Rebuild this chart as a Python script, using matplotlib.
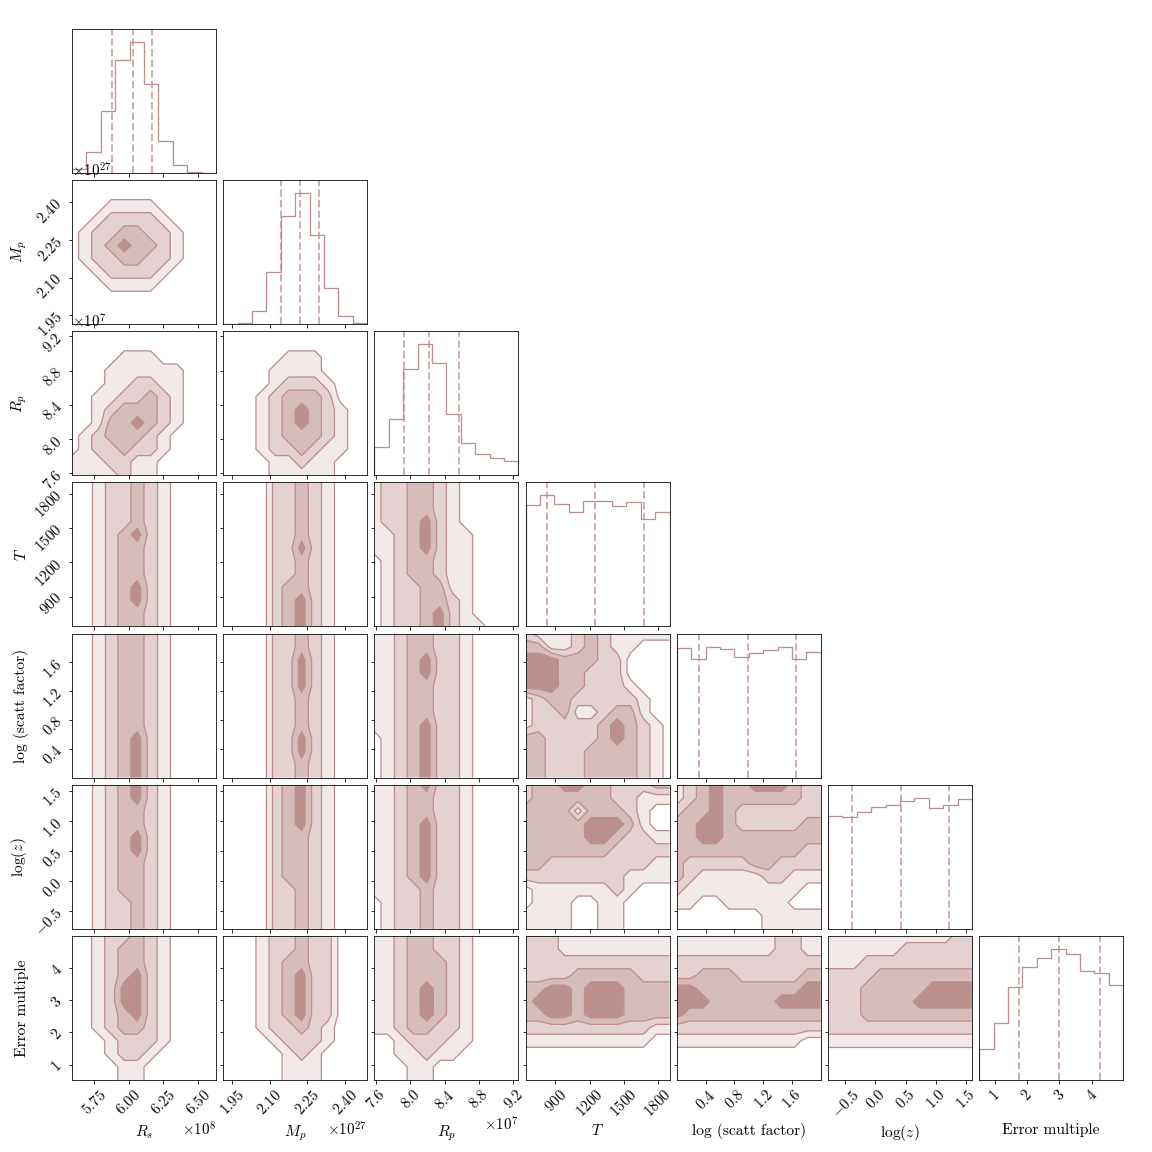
import numpy as np
import matplotlib
matplotlib.use('Agg')
import matplotlib.pyplot as plt
from matplotlib.ticker import FixedLocator, NullLocator, NullFormatter, ScalarFormatter

plt.rcParams['font.family'] = 'serif'
plt.rcParams['font.serif'] = ['cmr10', 'DejaVu Serif']
plt.rcParams['mathtext.fontset'] = 'cm'
plt.rcParams['axes.formatter.use_mathtext'] = True
plt.rcParams['axes.unicode_minus'] = False

labels = [r'$R_s$', r'$M_p$', r'$R_p$', r'$T$', 'log (scatt factor)', r'$\log(z)$', 'Error multiple']
lo = [5.593e8, 1.915e27, 7.58e7, 637, 0.0, -0.79, 0.52]
hi = [6.627e8, 2.489e27, 9.26e7, 1904, 2.0, 1.605, 4.98]
ticks = [[5.75e8, 6.00e8, 6.25e8, 6.50e8],
         [1.95e27, 2.10e27, 2.25e27, 2.40e27],
         [7.6e7, 8.0e7, 8.4e7, 8.8e7, 9.2e7],
         [900, 1200, 1500, 1800],
         [0.4, 0.8, 1.2, 1.6],
         [-0.5, 0.0, 0.5, 1.0, 1.5],
         [1, 2, 3, 4]]

# 1d histograms (10 bins over the axis range), heights
hist_rs = [10, 62, 186, 338, 392, 266, 95, 23, 2, 0]
hist_mp = [0, 4, 38, 155, 322, 392, 268, 107, 24, 2]
hist_rp = [83, 167, 317, 392, 335, 184, 97, 62, 51, 44]
hist_t = [365, 392, 368, 344, 375, 375, 362, 372, 323, 342]
hist_sc = [387, 354, 392, 385, 360, 372, 381, 390, 354, 375]
hist_z = [338, 335, 350, 365, 371, 383, 392, 362, 371, 389]
hist_err = [93, 171, 276, 336, 363, 390, 375, 326, 318, 282]

# 16/50/84 quantiles
q_rs = [5.883e8, 6.028e8, 6.165e8]
q_mp = [2.145e27, 2.220e27, 2.296e27]
q_rp = [7.930e7, 8.213e7, 8.567e7]
q_t = [822, 1246, 1678]
q_sc = [0.314, 0.988, 1.658]
q_z = [-0.385, 0.429, 1.222]
q_err = [1.75, 2.99, 4.26]

# 2d panels: contour level (0 = outside, 4 = innermost) on a 12x12 grid,
# rows from the top of the panel down, columns left to right
grid_mp_rs = ["000000000000", "000000000000", "000111100000", "001222210000",
              "012233221000", "012343321000", "012233221000", "001222210000",
              "000111100000", "000000000000", "000000000000", "000000000000"]
grid_rp_rs = ["000000000000", "000000000000", "000011100000", "000111111000",
              "000112211000", "001122321000", "001233321000", "001334321000",
              "012333210000", "012232210000", "111221100000", "111121100000"]
grid_rp_mp = ["000000000000", "000000000000", "000001110000", "000011110000",
              "000012221000", "000123332000", "000123432100", "000123432100",
              "000123332100", "000122321100", "000011211000", "000011111000"]
grid_t_rs = ["001223210000", "001223210000", "001223210000", "001223210000",
             "001234210000", "001233210000", "001233210000", "001233210000",
             "001234210000", "001234210000", "001233210000", "001233210000"]
grid_t_mp = ["000022321000", "000022321000", "000022321000", "000022321000",
             "000022321000", "000022421000", "000022321000", "000022321000",
             "000023321000", "000023421000", "000023421000", "000023421000"]
grid_t_rp = ["122332100000", "122332100000", "122332100000", "122342100000",
             "112342110000", "112342110000", "012332110000", "012332110000",
             "012233110000", "012233210000", "012234210000", "012234211000"]
grid_sc_rs = ["001233210000", "001233210000", "001233210000", "001233210000",
              "001233210000", "001233210000", "001233210000", "001233210000",
              "001234210000", "001234210000", "001234210000", "001234210000"]
grid_sc_mp = ["000022321000", "000022321000", "000022421000", "000022421000",
              "000022421000", "000022321000", "000022321000", "000022321000",
              "000022421000", "000022421000", "000022321000", "000022321000"]
grid_sc_rp = ["112332210000", "112332210000", "112342210000", "112342210000",
              "112332210000", "112332210000", "112332210000", "112342210000",
              "012342210000", "012342210000", "012342210000", "012342210000"]
grid_sc_t = ["211123211111", "331123211000", "444333220000", "444332220000",
             "444332221000", "123322222100", "122311233100", "122222343210",
             "332222343210", "332223333210", "332223333210", "332223333210"]
grid_z_rs = ["001234210000", "001234210000", "001233210000", "001233210000",
             "001234210000", "001234210000", "001233210000", "001233210000",
             "001233210000", "001223210000", "001223210000", "001223210000"]
grid_z_mp = ["000023421000", "000023421000", "000023421000", "000023421000",
             "000023321000", "000023321000", "000023321000", "000023321000",
             "000022321000", "000022321000", "000022321000", "000022321000"]
grid_z_rp = ["112342210000", "112332210000", "112332210000", "112342210000",
             "112342210000", "112342210000", "112342210000", "112342210000",
             "112232210000", "012232210000", "012232210000", "012232210000"]
grid_z_t = ["233443322233", "233333322111", "333313332100", "333334443100",
            "333334432211", "333333322222", "332222222211", "222222221111",
            "011111121000", "011100110000", "111100110000", "111100110000"]
grid_z_sc = ["123433444322", "123433333322", "233432222222", "334432222233",
             "334433333333", "333333333322", "322222332222", "321111122111",
             "211111111100", "110011111000", "000000011111", "000000011111"]
grid_e_rs = ["001223210000", "001233210000", "001233210000", "001234210000",
             "001244210000", "001244210000", "001234210000", "001233210000",
             "000122210000", "000122100000", "000011000000", "000011000000"]
grid_e_mp = ["000122322000", "000122322000", "000123322000", "000123422000",
             "000123422000", "000123422000", "000123422000", "000122321000",
             "000012221000", "000001210000", "000001110000", "000001110000"]
grid_e_rp = ["112332210000", "112332210000", "112333210000", "112333210000",
             "112343210000", "112343210000", "112343210000", "112332210000",
             "001222110000", "001121100000", "000110000000", "000110000000"]
grid_e_t = ["222111111111", "222111111111", "222222222222", "222233333222",
            "334434443333", "344434443333", "334434443333", "222222222211",
            "111111111100", "000000000000", "000000000000", "000000000000"]
grid_e_sc = ["111111112211", "111111112211", "222222222222", "223332222233",
             "443333333344", "444333334444", "433333333333", "222222222222",
             "111111111100", "000000000000", "000000000000", "000000000000"]
grid_e_z = ["111111111122", "111111222222", "111222222222", "222233333333",
            "222333334444", "222333344444", "222333333333", "222222222222",
            "111111111111", "000000000000", "000000000000", "000000000000"]

hists = [hist_rs, hist_mp, hist_rp, hist_t, hist_sc, hist_z, hist_err]
quants = [q_rs, q_mp, q_rp, q_t, q_sc, q_z, q_err]
grids = {(1, 0): grid_mp_rs,
         (2, 0): grid_rp_rs, (2, 1): grid_rp_mp,
         (3, 0): grid_t_rs, (3, 1): grid_t_mp, (3, 2): grid_t_rp,
         (4, 0): grid_sc_rs, (4, 1): grid_sc_mp, (4, 2): grid_sc_rp, (4, 3): grid_sc_t,
         (5, 0): grid_z_rs, (5, 1): grid_z_mp, (5, 2): grid_z_rp, (5, 3): grid_z_t,
         (5, 4): grid_z_sc,
         (6, 0): grid_e_rs, (6, 1): grid_e_mp, (6, 2): grid_e_rp, (6, 3): grid_e_t,
         (6, 4): grid_e_sc, (6, 5): grid_e_z}

dark = np.array([188, 143, 143]) / 255.0
fills = [tuple(1 - (1 - dark) * a) for a in (0.2, 0.4, 0.6, 1.0)]
tick_size = 15
label_size = 15.5


def drawPanel(ax, grid, xlo, xhi, ylo, yhi):
    z = np.array([[int(ch) for ch in row] for row in grid], dtype=float)[::-1]
    x = np.linspace(xlo, xhi, z.shape[1])
    y = np.linspace(ylo, yhi, z.shape[0])
    ax.contourf(x, y, z, levels=[0.5, 1.5, 2.5, 3.5, 4.5], colors=fills, antialiased=True)
    ax.contour(x, y, z, levels=[0.5, 1.5, 2.5, 3.5], colors=[tuple(dark)], linewidths=1.3)


fig, axes = plt.subplots(7, 7, figsize=(16, 16), dpi=72)
fig.subplots_adjust(left=0.0625, right=0.975, bottom=0.0625, top=0.975,
                    wspace=0.05, hspace=0.05)

n = len(labels)
for i in range(n):
    for j in range(n):
        ax = axes[i, j]
        if j > i:
            ax.set_axis_off()
            continue
        if i == j:
            edges = np.linspace(lo[i], hi[i], len(hists[i]) + 1)
            ax.stairs(hists[i], edges, color=tuple(dark), lw=1.3)
            for q in quants[i]:
                ax.axvline(q, ls='--', color=tuple(dark), alpha=0.7, lw=2)
            ax.set_ylim(0, 1.1 * max(hists[i]))
            ax.yaxis.set_major_locator(NullLocator())
        else:
            drawPanel(ax, grids[(i, j)], lo[j], hi[j], lo[i], hi[i])
            ax.set_ylim(lo[i], hi[i])
            ax.yaxis.set_major_locator(FixedLocator(ticks[i]))
            if j == 0:
                ax.yaxis.set_major_formatter(ScalarFormatter(useMathText=True))
                ax.tick_params(axis='y', labelrotation=45, labelsize=tick_size)
                ax.yaxis.get_offset_text().set_fontsize(tick_size)
                ax.set_ylabel(labels[i], fontsize=label_size)
                ax.yaxis.set_label_coords(-0.3, 0.5)
            else:
                ax.yaxis.set_major_formatter(NullFormatter())
        ax.set_xlim(lo[j], hi[j])
        ax.xaxis.set_major_locator(FixedLocator(ticks[j]))
        if i == n - 1:
            ax.xaxis.set_major_formatter(ScalarFormatter(useMathText=True))
            ax.tick_params(axis='x', labelrotation=45, labelsize=tick_size)
            ax.xaxis.get_offset_text().set_fontsize(tick_size)
            ax.set_xlabel(labels[j], fontsize=label_size)
            ax.xaxis.set_label_coords(0.5, -0.3)
        else:
            ax.xaxis.set_major_formatter(NullFormatter())

fig.savefig('out.png', dpi=72)
